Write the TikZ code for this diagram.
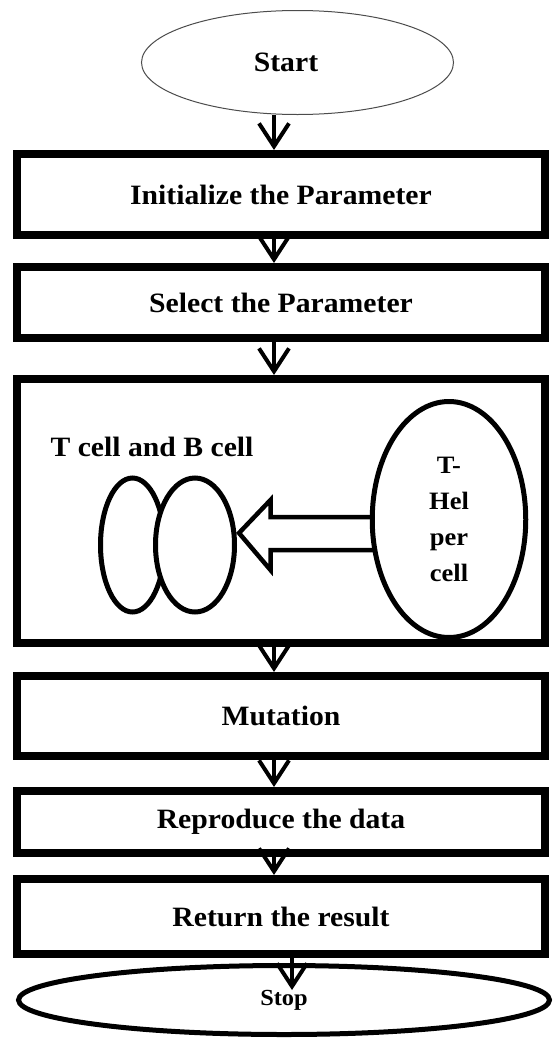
\documentclass[tikz,border=0pt]{standalone}
\usepackage{fontspec}
\setmainfont[FakeStretch=1.06]{Liberation Serif}
\usetikzlibrary{arrows.meta,shapes.geometric}

\begin{document}
\begin{tikzpicture}[
  x=1pt, y=1pt,
  >={Straight Barb[length=23pt,width=30pt]},
  box/.style={draw, line width=8pt, minimum width=528pt, inner sep=0pt, align=center, font=\fontsize{28}{32}\selectfont\bfseries},
  cell/.style={draw, ellipse, line width=5pt, fill=white, inner sep=0pt},
  terminal/.style={draw, ellipse, inner sep=0pt},
  flow/.style={->, line width=4pt}
]
\useasboundingbox (0,0) rectangle (555,-1039);
\node[terminal, draw=black!70, line width=1pt, minimum width=312pt, minimum height=104pt, font=\fontsize{28}{32}\selectfont\bfseries] (start) at (297.5,-62.5) {\hspace*{-23pt}Start};
\node[box, minimum height=81pt] (init) at (281,-194.5) {Initialize the Parameter};
\node[box, minimum height=71pt] (select) at (281,-302.5) {Select the Parameter};
\node[box, minimum height=264pt] (immune) at (281,-511) {};
\node[box, minimum height=80pt] (mutation) at (281,-716) {Mutation};
\node[box, minimum height=62pt] (reproduce) at (281,-822) {Reproduce the data};
\node[box, minimum height=75pt] (result) at (281,-916.5) {Return the result};
\node[terminal, line width=5pt, minimum width=531pt, minimum height=69pt, font=\fontsize{23}{26}\selectfont\bfseries] (stop) at (284,-1000) {Stop};

% inside the immune box
\node[font=\fontsize{28}{32}\selectfont\bfseries] (tblabel) at (152,-447) {T cell and B cell};
\node[cell, minimum width=64pt, minimum height=134pt] (tcell) at (132.5,-545) {};
\node[cell, minimum width=79pt, minimum height=134pt] (bcell) at (195,-545) {};
\node[cell, minimum width=153.5pt, minimum height=236pt, align=center, font=\fontsize{25}{36}\selectfont\bfseries] (helper) at (449,-519.5) {T-\\Hel\\per\\cell};
\draw[line width=4.5pt] ([yshift=2.5pt]helper.west) -- (270.5,-517) -- (270.5,-500) -- ([xshift=2pt,yshift=12pt]bcell.east) -- (270.5,-570) -- (270.5,-550) -- ([xshift=4pt,yshift=-30.5pt]helper.west);

\draw[flow] ([xshift=-23.5pt]start.south) -- ([xshift=-7pt]init.north);
\draw[flow] ([xshift=-7pt]init.south) -- ([xshift=-7pt]select.north);
\draw[flow] ([xshift=-7pt]select.south) -- ([xshift=-7pt]immune.north);
\draw[flow] ([xshift=-7pt]immune.south) -- ([xshift=-7pt]mutation.north);
\draw[flow] ([xshift=-7pt]mutation.south) -- ([xshift=-7pt]reproduce.north);
\draw[flow] ([xshift=-7pt]reproduce.south) -- ([xshift=-7pt]result.north);
\draw[flow] ([xshift=11pt]result.south) -- ([xshift=8pt,yshift=-27pt]stop.north);
\end{tikzpicture}
\end{document}
